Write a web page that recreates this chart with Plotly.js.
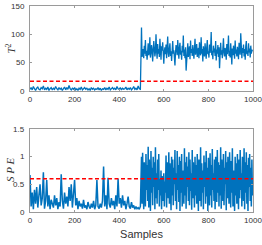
<!DOCTYPE html>
<html>
<head>
<meta charset="utf-8">
<script src="https://cdn.plot.ly/plotly-3.0.1.min.js"></script>
<style>html,body{margin:0;padding:0;background:#fff;}#chart{width:262px;height:245px;}</style>
</head>
<body>
<div id="chart"></div>
<script>
// Sample spacing of the reduced series (normal part / fault part)
const normalStep = 5;
const faultStep = 2.5;
const faultStart = 500;

const t2Normal = [3,6,2,8,4,1,5,7,3,2,6,4,9,2,5,3,7,1,4,6,
 2,5,3,8,4,2,6,3,5,1,4,7,2,6,3,10,4,2,5,3,
 6,2,4,1,5,3,7,2,4,6,3,5,2,4,1,6,3,5,2,4,
 3,6,2,5,1,4,3,6,2,5,3,7,2,4,6,3,5,2,8,4,
 3,6,2,5,3,4,7,2,5,3,6,2,4,8,3,5,2,9,4,3];

const t2Fault = [112,60,68,74,58,80,66,90,62,71,
 55,78,84,63,70,95,59,67,81,73,
 52,64,88,76,61,69,100,72,57,83,
 66,74,60,92,68,55,79,71,86,63,
 48,70,77,65,82,58,73,96,67,60,
 75,84,62,70,53,79,88,66,72,59,
 45,68,81,74,63,90,70,57,76,85,
 64,71,55,80,68,98,62,73,58,77,
 36,65,72,84,60,70,79,56,89,67,
 74,62,81,69,57,75,92,64,71,83,
 60,68,76,58,86,70,63,95,66,74,
 52,79,68,61,84,72,57,77,90,65,
 70,59,82,67,74,104,63,71,56,80,
 68,75,62,88,54,73,66,81,60,77,
 40,69,85,64,72,58,79,93,67,61,
 76,70,55,83,65,74,98,62,71,59,
 84,68,47,75,63,80,70,57,89,66,
 73,61,78,69,56,85,72,64,102,70,
 58,76,67,82,61,74,55,79,88,65,
 71,62,84,68,75,59,80,66,73,70];

const speNormal = [0.67,0.1,0.35,0.05,0.4,0.15,0.45,0.08,0.3,0.5,
 0.12,0.25,0.72,0.06,0.2,0.58,0.1,0.3,0.05,0.22,
 0.15,0.08,0.3,0.12,0.25,0.05,0.18,0.1,0.68,0.2,
 0.06,0.35,0.15,0.28,0.1,0.45,0.2,0.5,0.08,0.3,
 0.58,0.12,0.25,0.05,0.2,0.1,0.15,0.06,0.22,0.08,
 0.12,0.05,0.18,0.1,0.06,0.15,0.08,0.2,0.05,0.12,
 0.58,0.1,0.06,0.15,0.08,0.2,0.82,0.1,0.3,0.05,
 0.62,0.15,0.08,0.25,0.12,0.2,0.05,0.3,0.1,0.6,
 0.15,0.25,0.08,0.3,0.12,0.2,0.05,0.15,0.28,0.1,
 0.06,0.18,0.08,0.12,0.05,0.1,0.06,0.08,0.05,0.1];

const speFault = [1.0,0.15,1.07,0.3,0.05,0.9,0.6,0.1,1.05,0.4,
 0.85,0.2,1.18,0.08,0.95,0.5,0.02,1.1,0.35,0.8,
 0.12,1.0,0.45,0.9,0.05,1.17,0.25,0.7,0.15,0.95,
 0.4,1.05,0.1,0.6,0.3,0.75,0.05,0.65,0.5,0.2,
 0.7,0.1,0.55,0.35,1.02,0.08,0.9,0.45,0.25,1.08,
 0.15,0.88,0.6,0.03,1.0,0.3,0.95,0.12,0.8,0.5,
 1.12,0.2,0.7,0.05,1.1,0.4,0.85,0.18,1.0,0.02,
 0.92,0.35,1.05,0.1,0.75,0.55,0.15,1.15,0.3,0.9,
 0.06,1.0,0.45,0.82,0.2,1.08,0.12,0.95,0.38,0.7,
 0.04,1.12,0.25,0.9,0.5,0.08,1.0,0.3,0.85,0.15,
 1.05,0.4,0.02,0.95,0.6,0.2,1.17,0.1,0.88,0.35,
 0.75,0.05,1.02,0.45,0.9,0.15,1.1,0.28,0.8,0.02,
 0.98,0.5,0.12,1.06,0.3,0.85,0.08,1.14,0.4,0.7,
 0.2,0.95,0.05,1.0,0.55,0.18,1.12,0.35,0.9,0.1,
 0.85,0.3,1.17,0.06,0.95,0.45,0.2,1.05,0.12,0.8,
 0.5,1.1,0.03,0.9,0.25,1.0,0.4,0.15,1.08,0.6,
 0.08,0.92,0.35,1.15,0.1,0.75,0.5,0.02,1.0,0.3,
 0.88,0.15,1.05,0.45,0.05,0.95,0.25,1.12,0.4,0.7,
 0.1,1.0,0.55,0.2,1.15,0.05,0.9,0.35,1.08,0.15,
 0.85,0.02,0.98,0.45,1.05,0.2,0.8,0.1,0.95,0.3];

const t2Limit = 17;
const speLimit = 0.6;
const xRange = [0, 1000];
const xTicks = [0, 200, 400, 600, 800, 1000];
const xTickText = ['0', '200', '400', '600', '800', '1000'];
const t2Ticks = [0, 50, 100, 150];
const t2TickText = ['0', '50', '100', '150'];
const speTicks = [0, 0.5, 1, 1.5];
const speTickText = ['0', '0.5', '1', '1.5'];
const t2Label = '<i>T</i><sup>2</sup>';
const speLabel = '<i>S P E</i>';
const xLabel = 'Samples';

const xsNormal = t2Normal.map((_, i) => i * normalStep);
const xsFault = t2Fault.map((_, i) => faultStart + i * faultStep);
const xs = xsNormal.concat(xsFault);
const t2 = t2Normal.concat(t2Fault);
const spe = speNormal.concat(speFault);

const blue = '#0072BD';
const red = '#FF0000';
const tickFont = {family: 'Liberation Sans, Arial, sans-serif', size: 8, color: '#333'};
const labelFontSerif = {family: 'Liberation Serif, DejaVu Serif, serif', size: 11, color: '#333'};

const traces = [
  {x: xs, y: t2, type: 'scatter', mode: 'lines', line: {color: blue, width: 1.3}, xaxis: 'x', yaxis: 'y'},
  {x: xRange, y: [t2Limit, t2Limit], type: 'scatter', mode: 'lines', line: {color: red, width: 1.5, dash: '4px,2.5px'}, xaxis: 'x', yaxis: 'y'},
  {x: xs, y: spe, type: 'scatter', mode: 'lines', line: {color: blue, width: 1.5}, xaxis: 'x2', yaxis: 'y2'},
  {x: xRange, y: [speLimit, speLimit], type: 'scatter', mode: 'lines', line: {color: red, width: 1.5, dash: '4px,2.5px'}, xaxis: 'x2', yaxis: 'y2'}
];

const axBase = {
  showline: true, mirror: 'ticks', linecolor: '#9a9a9a', linewidth: 1,
  ticks: 'inside', ticklen: 2, tickcolor: '#9a9a9a', tickwidth: 1,
  showgrid: false, zeroline: false, tickfont: tickFont, fixedrange: true,
  ticklabeloverflow: 'allow', tickmode: 'array'
};

// y tick labels placed through each y axis' own scale
function yTickLabels(vals, texts, yref) {
  return vals.map((v, i) => ({
    text: texts[i], xref: 'paper', yref: yref, x: -3/223, y: v,
    xanchor: 'right', yanchor: 'middle', showarrow: false, font: tickFont
  }));
}

const layout = {
  width: 262, height: 245,
  margin: {l: 30, r: 9, t: 6, b: 33},
  showlegend: false,
  xaxis: Object.assign({}, axBase, {domain: [0, 1], range: xRange, tickvals: xTicks, ticktext: xTickText, anchor: 'y'}),
  yaxis: Object.assign({}, axBase, {domain: [1 - 85/206, 1], range: [0, 150], tickvals: t2Ticks, showticklabels: false, anchor: 'x'}),
  xaxis2: Object.assign({}, axBase, {domain: [0, 1], range: xRange, tickvals: xTicks, ticktext: xTickText, anchor: 'y2',
    title: {text: xLabel, font: {family: 'Liberation Sans, Arial, sans-serif', size: 11, color: '#333'}, standoff: 6}}),
  yaxis2: Object.assign({}, axBase, {domain: [0, 83/206], range: [0, 1.5], tickvals: speTicks, showticklabels: false, anchor: 'x2'}),
  annotations: [
    {text: t2Label, xref: 'paper', yref: 'paper', x: -20/223, y: 1 - 42.5/206, textangle: -90, showarrow: false, font: labelFontSerif, xanchor: 'center', yanchor: 'middle'},
    {text: speLabel, xref: 'paper', yref: 'paper', x: -20/223, y: 1 - 164/206, textangle: -90, showarrow: false, font: labelFontSerif, xanchor: 'center', yanchor: 'middle'}
  ].concat(yTickLabels(t2Ticks, t2TickText, 'y'), yTickLabels(speTicks, speTickText, 'y2'))
};

Plotly.newPlot('chart', traces, layout, {staticPlot: true, displayModeBar: false});
</script>
</body>
</html>
